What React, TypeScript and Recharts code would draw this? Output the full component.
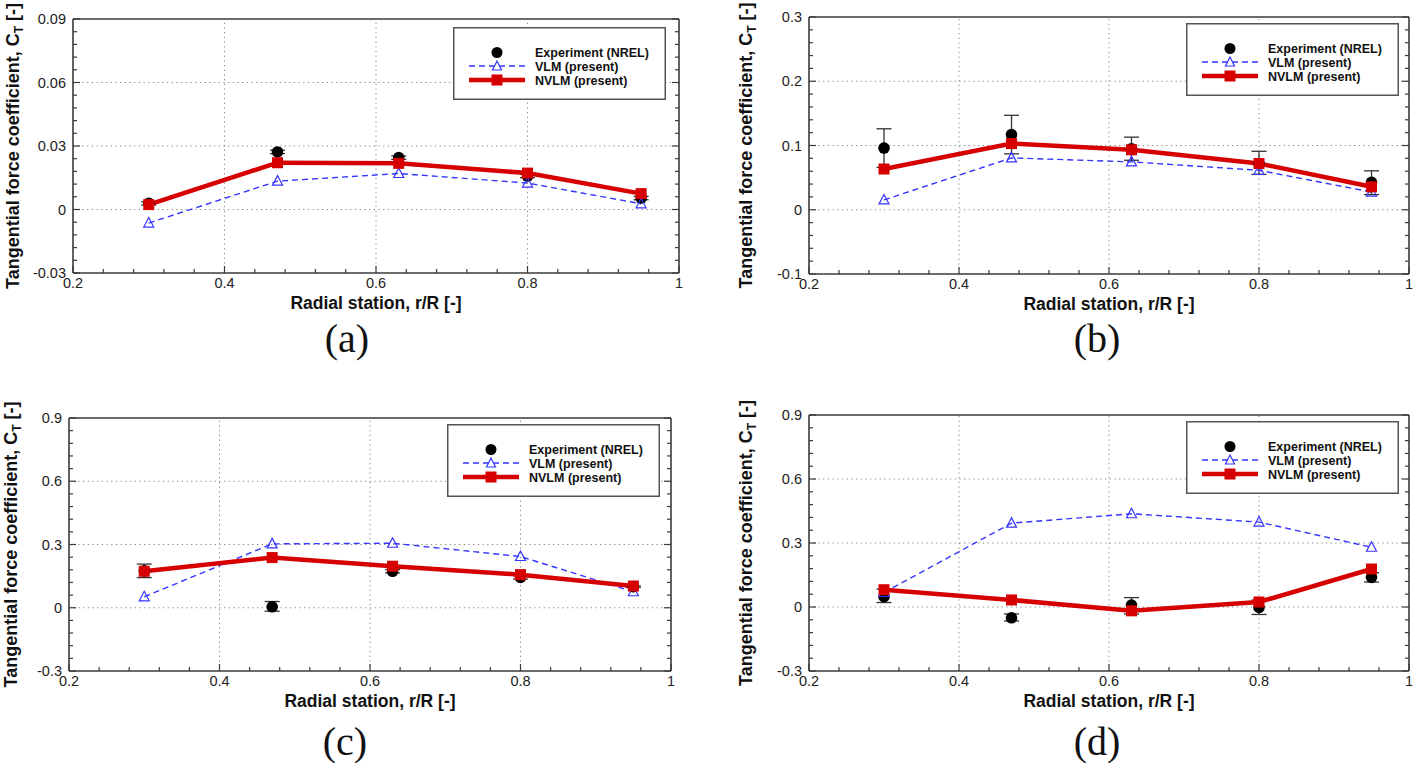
import React from 'react';
import { ComposedChart, Line, Scatter, XAxis, YAxis, ErrorBar, ReferenceLine, Legend } from 'recharts';

// radial stations shared by every panel
const stations = [0.3, 0.47, 0.63, 0.8, 0.95];
const xMajor = [0.2, 0.4, 0.6, 0.8, 1];

// panel (a)
const yMajorA = [-0.03, 0, 0.03, 0.06, 0.09];
const expA = [0.0029, 0.0272, 0.0245, 0.0158, 0.0054];
const expLoA = [0.0008, 0.0008, 0.0008, 0.0008, 0.0008];
const expHiA = [0.0008, 0.0008, 0.0008, 0.0008, 0.0008];
const vlmA = [-0.0064, 0.0134, 0.017, 0.0125, 0.0027];
const nvlmA = [0.0023, 0.0221, 0.0218, 0.0172, 0.0075];

// panel (b)
const yMajorB = [-0.1, 0, 0.1, 0.2, 0.3];
const expB = [0.096, 0.117, 0.095, 0.072, 0.0426];
const expLoB = [0.03, 0.03, 0.018, 0.017, 0.019];
const expHiB = [0.03, 0.03, 0.018, 0.019, 0.018];
const vlmB = [0.0153, 0.0807, 0.0745, 0.0614, 0.0275];
const nvlmB = [0.0634, 0.103, 0.0933, 0.072, 0.0357];

// panel (c)
const yMajorC = [-0.3, 0, 0.3, 0.6, 0.9];
const expC = [0.175, 0.0045, 0.173, 0.144, 0.1];
const expLoC = [0.032, 0.021, 0.008, 0.008, 0.004];
const expHiC = [0.032, 0.025, 0.008, 0.008, 0.004];
const vlmC = [0.052, 0.303, 0.306, 0.243, 0.076];
const nvlmC = [0.173, 0.238, 0.197, 0.157, 0.103];

// panel (d)
const yMajorD = [-0.3, 0, 0.3, 0.6, 0.9];
const expD = [0.048, -0.0506, 0.009, -0.002, 0.139];
const expLoD = [0.027, 0.015, 0.042, 0.033, 0.022];
const expHiD = [0.036, 0.018, 0.035, 0.035, 0.022];
const vlmD = [0.068, 0.393, 0.437, 0.398, 0.28];
const nvlmD = [0.081, 0.033, -0.018, 0.0234, 0.178];

const legendNames = ['Experiment (NREL)', 'VLM (present)', 'NVLM (present)'];

const FONT = '"Liberation Sans", Arial, Helvetica, sans-serif';
const FRAME = '#3a3a3a';
const RED = '#d60000';
const BLUE = '#3535ff';
const GRID = '#808080';

type Pt = { r: number; v: number; err?: [number, number] };

const toPts = (vals: number[]): Pt[] => stations.map((r, i) => ({ r, v: vals[i] }));
const toExp = (vals: number[], lo: number[], hi: number[]): Pt[] =>
  stations.map((r, i) => ({ r, v: vals[i], err: [lo[i], hi[i]] }));

// major ticks plus evenly spaced minor ticks between them
function withMinor(majors: number[], parts: number) {
  const out: number[] = [];
  for (let i = 0; i < majors.length - 1; i++) {
    const a = majors[i];
    const b = majors[i + 1];
    for (let k = 0; k < parts; k++) out.push(+(a + ((b - a) * k) / parts).toFixed(6));
  }
  out.push(majors[majors.length - 1]);
  return out;
}

const isMajor = (v: number, majors: number[]) => majors.some((m) => Math.abs(m - v) < 1e-7);

const XTick = (props: any) => {
  const { x, y, payload } = props;
  const major = isMajor(payload.value, xMajor);
  return (
    <g>
      <line x1={x} x2={x} y1={y} y2={y - (major ? 7 : 4)} stroke={FRAME} strokeWidth={1.2} />
      {major && (
        <text x={x} y={y + 14.5} textAnchor="middle" fontFamily={FONT} fontSize={14.5} fill="#222">
          {String(payload.value)}
        </text>
      )}
    </g>
  );
};

const makeYTick = (majors: number[], side: 'left' | 'right') => (props: any) => {
  const { x, y, payload } = props;
  const major = isMajor(payload.value, majors);
  const len = major ? 7 : 4;
  const dir = side === 'left' ? 1 : -1;
  return (
    <g>
      <line x1={x} x2={x + dir * len} y1={y} y2={y} stroke={FRAME} strokeWidth={1.2} />
      {major && side === 'left' && (
        <text x={x - 7} y={y + 5} textAnchor="end" fontFamily={FONT} fontSize={14.5} fill="#222">
          {String(payload.value)}
        </text>
      )}
    </g>
  );
};

const LegendBox = () => {
  const rows = [25.5, 39, 53];
  const mx = 44;
  return (
    <svg width={213} height={73} style={{ display: 'block' }}>
      <rect x={0.75} y={0.75} width={211.5} height={71.5} fill="#fff" stroke="#555" strokeWidth={1.5} />
      <ellipse cx={mx} cy={rows[0]} rx={5.5} ry={5.5} fill="#000" />
      <line x1={16} x2={72} y1={rows[1]} y2={rows[1]} stroke={BLUE} strokeWidth={1.4} strokeDasharray="6 4" />
      <polygon
        points={`${mx},${rows[1] - 5} ${mx - 4.5},${rows[1] + 4} ${mx + 4.5},${rows[1] + 4}`}
        fill="#fff"
        stroke={BLUE}
        strokeWidth={1.2}
      />
      <line x1={16} x2={72} y1={rows[2]} y2={rows[2]} stroke={RED} strokeWidth={4.5} />
      <rect x={mx - 5.5} y={rows[2] - 5.5} width={11} height={11} fill={RED} />
      {legendNames.map((n, i) => (
        <text key={n} x={82} y={rows[i] + 4.5} fontFamily={FONT} fontWeight="bold" fontSize={12.5} fill="#111">
          {n}
        </text>
      ))}
    </svg>
  );
};

interface Box {
  x: number;
  y: number;
  w: number;
  h: number;
}

interface PanelProps {
  cell: Box;
  plot: { l: number; t: number; r: number; b: number };
  yMajor: number[];
  exp: Pt[];
  vlm: Pt[];
  nvlm: Pt[];
  legendAt: { x: number; y: number };
  caption: string;
  captionAt: { x: number; y: number };
  yTitleX: number;
}

function Panel({ cell, plot, yMajor, exp, vlm, nvlm, legendAt, caption, captionAt, yTitleX }: PanelProps) {
  // every axis is 1px thick, so the margins leave that pixel out
  const margin = {
    top: plot.t - cell.y - 1,
    left: plot.l - cell.x - 1,
    right: cell.x + cell.w - plot.r - 1,
    bottom: cell.y + cell.h - plot.b - 1,
  };
  const xTicks = withMinor(xMajor, 5);
  const yTicks = withMinor(yMajor, 5);
  const yDomain: [number, number] = [yMajor[0], yMajor[yMajor.length - 1]];
  const axisLine = { stroke: FRAME, strokeWidth: 1.6 };
  const plotCx = (plot.l + plot.r) / 2 - cell.x;
  const plotCy = (plot.t + plot.b) / 2 - cell.y;

  return (
    <div style={{ position: 'absolute', left: cell.x, top: cell.y, width: cell.w, height: cell.h }}>
      <ComposedChart width={cell.w} height={cell.h} margin={margin}>
        {xMajor.slice(1, -1).map((v) => (
          <ReferenceLine key={`gx${v}`} x={v} stroke={GRID} strokeWidth={1} strokeDasharray="1.2 3.5" />
        ))}
        {yMajor.slice(1, -1).map((v) => (
          <ReferenceLine key={`gy${v}`} y={v} stroke={GRID} strokeWidth={1} strokeDasharray="1.2 3.5" />
        ))}
        <XAxis
          dataKey="r"
          type="number"
          domain={[0.2, 1]}
          ticks={xTicks}
          interval={0}
          height={1}
          tickSize={0}
          tickMargin={0}
          tickLine={false}
          axisLine={axisLine}
          tick={<XTick />}
          allowDataOverflow
        />
        <XAxis
          xAxisId="t"
          dataKey="r"
          orientation="top"
          type="number"
          domain={[0.2, 1]}
          height={1}
          tick={false}
          tickLine={false}
          axisLine={axisLine}
        />
        <YAxis
          dataKey="v"
          type="number"
          domain={yDomain}
          ticks={yTicks}
          interval={0}
          width={1}
          tickSize={0}
          tickMargin={0}
          tickLine={false}
          axisLine={axisLine}
          tick={makeYTick(yMajor, 'left')}
          allowDataOverflow
        />
        <YAxis
          yAxisId="r"
          orientation="right"
          type="number"
          domain={yDomain}
          ticks={yTicks}
          interval={0}
          width={1}
          tickSize={0}
          tickMargin={0}
          tickLine={false}
          axisLine={axisLine}
          tick={makeYTick(yMajor, 'right')}
          allowDataOverflow
        />
        <Scatter
          data={exp}
          dataKey="v"
          isAnimationActive={false}
          shape={(p: any) => <ellipse cx={p.cx} cy={p.cy} rx={5.8} ry={5.8} fill="#000" />}
        >
          <ErrorBar dataKey="err" direction="y" width={7.5} stroke="#333" strokeWidth={1.3} />
        </Scatter>
        <Line
          data={vlm}
          dataKey="v"
          type="linear"
          stroke={BLUE}
          strokeWidth={1.4}
          strokeDasharray="6 4"
          isAnimationActive={false}
          activeDot={false}
          dot={(p: any) => (
            <polygon
              key={`t${p.index}`}
              points={`${p.cx},${p.cy - 5.5} ${p.cx - 5},${p.cy + 4} ${p.cx + 5},${p.cy + 4}`}
              fill="none"
              stroke={BLUE}
              strokeWidth={1.2}
            />
          )}
        />
        <Line
          data={nvlm}
          dataKey="v"
          type="linear"
          stroke={RED}
          strokeWidth={4.5}
          isAnimationActive={false}
          activeDot={false}
          dot={(p: any) => (
            <rect key={`s${p.index}`} x={p.cx - 5.5} y={p.cy - 5.5} width={11} height={11} fill={RED} />
          )}
        />
        <Legend
          layout="horizontal"
          verticalAlign="middle"
          align="center"
          wrapperStyle={{ left: legendAt.x - cell.x, top: legendAt.y - cell.y, width: 213, height: 73 }}
          content={() => <LegendBox />}
        />
      </ComposedChart>
      <svg
        width={cell.w}
        height={cell.h}
        style={{ position: 'absolute', left: 0, top: 0, pointerEvents: 'none' }}
      >
        <text
          transform={`translate(${yTitleX - cell.x + 6}, ${plotCy}) rotate(-90)`}
          textAnchor="middle"
          fontFamily={FONT}
          fontWeight="bold"
          fontSize={18}
          fill="#111"
        >
          Tangential force coefficient, C
          <tspan fontSize={12} dy={4}>
            T
          </tspan>
          <tspan dy={-4}> [-]</tspan>
        </text>
        <text
          x={plotCx}
          y={plot.b - cell.y + 36}
          textAnchor="middle"
          fontFamily={FONT}
          fontWeight="bold"
          fontSize={17.5}
          fill="#111"
        >
          Radial station, r/R [-]
        </text>
        <text
          x={captionAt.x - cell.x}
          y={captionAt.y - cell.y}
          textAnchor="middle"
          fontFamily='"Liberation Serif", "Times New Roman", serif'
          fontSize={40}
          fill="#111"
        >
          {caption}
        </text>
      </svg>
    </div>
  );
}

export default function App() {
  return (
    <div style={{ position: 'absolute', left: 0, top: 0, width: 1416, height: 763, background: '#fff' }}>
      <Panel
        cell={{ x: 0, y: 0, w: 712, h: 380 }}
        plot={{ l: 73, t: 19, r: 679, b: 273 }}
        yMajor={yMajorA}
        exp={toExp(expA, expLoA, expHiA)}
        vlm={toPts(vlmA)}
        nvlm={toPts(nvlmA)}
        legendAt={{ x: 453, y: 27 }}
        caption="(a)"
        captionAt={{ x: 347, y: 352 }}
        yTitleX={13}
      />
      <Panel
        cell={{ x: 716, y: 0, w: 700, h: 380 }}
        plot={{ l: 809, t: 17, r: 1409, b: 274 }}
        yMajor={yMajorB}
        exp={toExp(expB, expLoB, expHiB)}
        vlm={toPts(vlmB)}
        nvlm={toPts(nvlmB)}
        legendAt={{ x: 1186, y: 23 }}
        caption="(b)"
        captionAt={{ x: 1097, y: 352 }}
        yTitleX={746}
      />
      <Panel
        cell={{ x: 0, y: 380, w: 712, h: 383 }}
        plot={{ l: 69, t: 418, r: 671, b: 671 }}
        yMajor={yMajorC}
        exp={toExp(expC, expLoC, expHiC)}
        vlm={toPts(vlmC)}
        nvlm={toPts(nvlmC)}
        legendAt={{ x: 447, y: 424 }}
        caption="(c)"
        captionAt={{ x: 345, y: 755 }}
        yTitleX={11}
      />
      <Panel
        cell={{ x: 716, y: 380, w: 700, h: 383 }}
        plot={{ l: 809, t: 415, r: 1409, b: 671 }}
        yMajor={yMajorD}
        exp={toExp(expD, expLoD, expHiD)}
        vlm={toPts(vlmD)}
        nvlm={toPts(nvlmD)}
        legendAt={{ x: 1186, y: 421 }}
        caption="(d)"
        captionAt={{ x: 1097, y: 755 }}
        yTitleX={746}
      />
    </div>
  );
}
